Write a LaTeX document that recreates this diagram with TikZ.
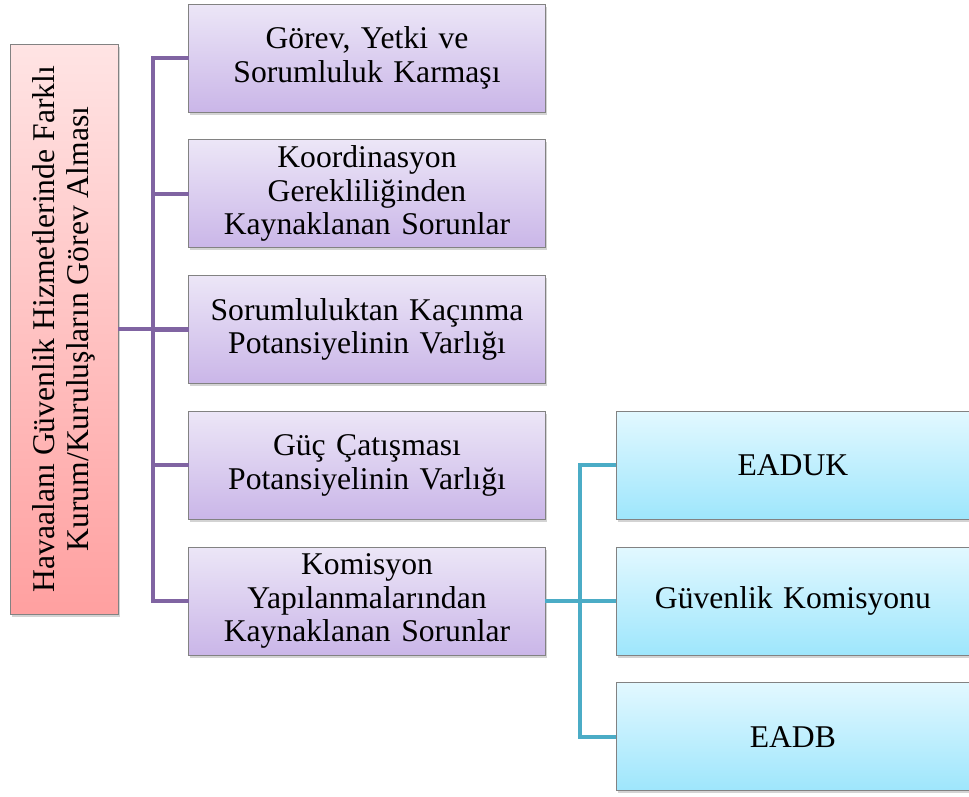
\documentclass[tikz,border=0pt]{standalone}
\usepackage{fontspec}
\setmainfont{Liberation Serif}
\usetikzlibrary{positioning, shadows}
\definecolor{pinktop}{RGB}{255,228,228}
\definecolor{pinkbot}{RGB}{255,160,160}
\definecolor{lavtop}{RGB}{236,230,247}
\definecolor{lavbot}{RGB}{202,182,232}
\definecolor{skytop}{RGB}{226,248,255}
\definecolor{skybot}{RGB}{158,230,252}
\definecolor{purpleline}{RGB}{128,100,162}
\definecolor{tealline}{RGB}{75,172,198}
\definecolor{edgegray}{RGB}{130,130,130}
\tikzset{
  rootbox/.style={
    rectangle,
    draw=edgegray,
    rotate=90,
    top color=pinktop,
    bottom color=pinkbot,
    align=center,
    minimum width=11.4cm,
    minimum height=2.16cm,
    outer sep=0pt,
    drop shadow={shadow xshift=1pt, shadow yshift=-1.5pt, opacity=0.35},
    font=\fontsize{18}{19.5}\selectfont
  },
  issuebox/.style={
    rectangle,
    draw=edgegray,
    top color=lavtop,
    bottom color=lavbot,
    align=center,
    minimum width=7.12cm,
    minimum height=2.16cm,
    text width=6.9cm,
    outer sep=0pt,
    drop shadow={shadow xshift=1pt, shadow yshift=-1.5pt, opacity=0.35},
    font=\fontsize{18}{19}\selectfont
  },
  bodybox/.style={
    rectangle,
    draw=edgegray,
    top color=skytop,
    bottom color=skybot,
    align=center,
    minimum width=7.06cm,
    minimum height=2.16cm,
    text width=6.8cm,
    outer sep=0pt,
    drop shadow={shadow xshift=1pt, shadow yshift=-1.5pt, opacity=0.35},
    font=\fontsize{18}{19}\selectfont
  },
  link/.style={purpleline, line width=2.3pt},
  sublink/.style={tealline, line width=2.3pt}
}

\begin{document}
\begin{tikzpicture}[node distance=5.55mm and 14.2mm]
\useasboundingbox (0,0) rectangle (19.38,-15.92);
\node[rootbox] (root) at (1.28,-6.58) {Havaalanı Güvenlik Hizmetlerinde Farklı\\Kurum/Kuruluşların Görev Alması};
\node[issuebox] (gorev) at (7.34,-1.16) {Görev, Yetki ve\\Sorumluluk Karmaşı};
\node[issuebox, below=of gorev] (koord) {Koordinasyon\\Gerekliliğinden\\Kaynaklanan Sorunlar};
\node[issuebox, below=of koord] (kacinma) {Sorumluluktan Kaçınma\\Potansiyelinin Varlığı};
\node[issuebox, below=of kacinma] (guc) {Güç Çatışması\\Potansiyelinin Varlığı};
\node[issuebox, below=of guc] (komisyon) {Komisyon\\Yapılanmalarından\\Kaynaklanan Sorunlar};
\node[bodybox, right=of guc] (eaduk) {EADUK};
\node[bodybox, below=of eaduk] (guvkom) {Güvenlik Komisyonu};
\node[bodybox, below=of guvkom] (eadb) {EADB};

\draw[link] (root.south) -- ++(0.7,0) coordinate (trunk);
\foreach \n in {gorev, koord, kacinma, guc, komisyon}
  \draw[link] (trunk) |- (\n.west);
\draw[sublink] (komisyon.east) -- ++(0.7,0) coordinate (branch);
\foreach \n in {eaduk, guvkom, eadb}
  \draw[sublink] (branch) |- (\n.west);
\end{tikzpicture}
\end{document}
